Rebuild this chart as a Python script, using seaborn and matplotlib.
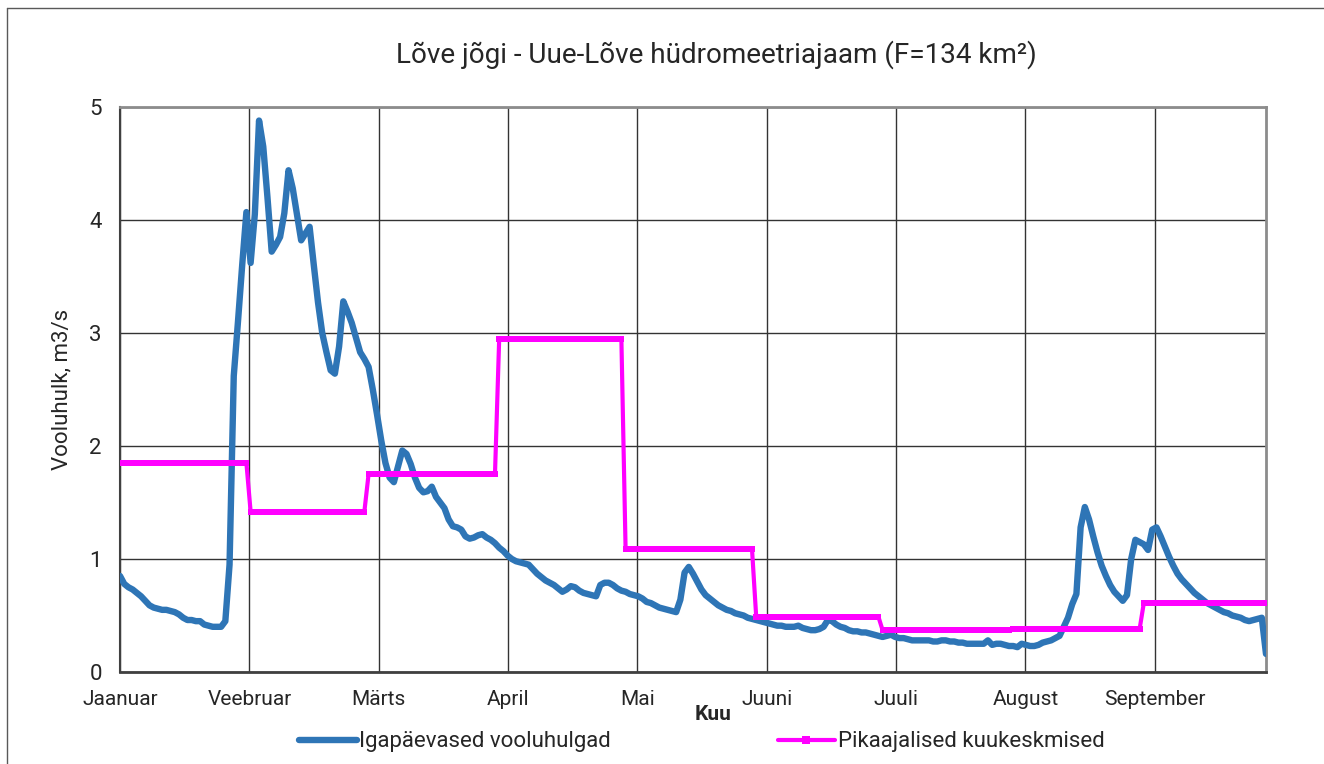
import numpy as np
import pandas as pd
import matplotlib
matplotlib.use("Agg")
import matplotlib.pyplot as plt
from matplotlib.lines import Line2D
import seaborn as sns

# ---------------- data ----------------
month_labels = ["Jaanuar", "Veebruar", "Märts", "April", "Mai", "Juuni", "Juuli", "August", "September"]
month_days = [31, 28, 31, 30, 31, 30, 31, 31, 30]
monthly_mean = [1.85, 1.42, 1.75, 2.95, 1.09, 0.49, 0.37, 0.38, 0.61]

jan_q = [0.85, 0.78, 0.75, 0.73, 0.70, 0.67, 0.63, 0.59, 0.57, 0.56, 0.55, 0.55, 0.54, 0.53, 0.51, 0.48,
         0.46, 0.46, 0.45, 0.45, 0.42, 0.41, 0.40, 0.40, 0.40, 0.45, 0.95, 2.62, 3.10, 3.60, 4.07]
feb_q = [3.62, 4.05, 4.88, 4.65, 4.20, 3.72, 3.78, 3.85, 4.06, 4.44, 4.28, 4.05, 3.82, 3.88, 3.94, 3.60,
         3.27, 3.00, 2.83, 2.67, 2.64, 2.88, 3.28, 3.19, 3.09, 2.96, 2.83, 2.77]
mar_q = [2.70, 2.50, 2.28, 2.05, 1.85, 1.72, 1.68, 1.82, 1.96, 1.93, 1.84, 1.72, 1.63, 1.59, 1.60, 1.64,
         1.55, 1.50, 1.45, 1.35, 1.29, 1.28, 1.26, 1.20, 1.18, 1.19, 1.21, 1.22, 1.19, 1.17, 1.14]
apr_q = [1.10, 1.07, 1.03, 1.00, 0.98, 0.97, 0.96, 0.95, 0.91, 0.87, 0.84, 0.81, 0.79, 0.77, 0.74, 0.71,
         0.73, 0.76, 0.75, 0.72, 0.70, 0.69, 0.68, 0.67, 0.77, 0.79, 0.79, 0.77, 0.74, 0.72]
may_q = [0.71, 0.69, 0.68, 0.67, 0.65, 0.62, 0.61, 0.59, 0.57, 0.56, 0.55, 0.54, 0.53, 0.64, 0.88, 0.93,
         0.87, 0.80, 0.73, 0.68, 0.65, 0.62, 0.59, 0.57, 0.55, 0.54, 0.52, 0.51, 0.50, 0.48, 0.47]
jun_q = [0.46, 0.45, 0.44, 0.43, 0.42, 0.41, 0.41, 0.40, 0.40, 0.40, 0.41, 0.39, 0.38, 0.37, 0.37, 0.38,
         0.40, 0.46, 0.45, 0.42, 0.40, 0.39, 0.37, 0.36, 0.36, 0.35, 0.35, 0.34, 0.33, 0.32]
jul_q = [0.31, 0.32, 0.33, 0.31, 0.30, 0.30, 0.29, 0.28, 0.28, 0.28, 0.28, 0.28, 0.27, 0.27, 0.28, 0.28,
         0.27, 0.27, 0.26, 0.26, 0.25, 0.25, 0.25, 0.25, 0.25, 0.28, 0.24, 0.25, 0.25, 0.24, 0.23]
aug_q = [0.23, 0.22, 0.25, 0.24, 0.23, 0.23, 0.24, 0.26, 0.27, 0.28, 0.30, 0.32, 0.40, 0.48, 0.60, 0.69,
         1.28, 1.46, 1.35, 1.20, 1.06, 0.94, 0.85, 0.77, 0.71, 0.67, 0.63, 0.68, 1.00, 1.17, 1.15]
sep_q = [1.13, 1.08, 1.26, 1.28, 1.20, 1.11, 1.02, 0.94, 0.87, 0.82, 0.78, 0.74, 0.70, 0.67, 0.64, 0.61,
         0.59, 0.57, 0.55, 0.53, 0.52, 0.50, 0.49, 0.48, 0.46, 0.45, 0.46, 0.47, 0.48, 0.16]

daily_q = jan_q + feb_q + mar_q + apr_q + may_q + jun_q + jul_q + aug_q + sep_q
days = np.arange(len(daily_q))
mean_daily = np.repeat(monthly_mean, month_days)

df = pd.DataFrame({"day": days, "q": daily_q, "mean": mean_daily})

# ---------------- style ----------------
sns.set_theme(style="white")
plt.rcParams["font.family"] = ["Roboto", "DejaVu Sans"]

fig = plt.figure(figsize=(13.24, 7.64), dpi=100)
ax = fig.add_axes([120 / 1324, 1 - 672 / 764, (1266 - 120) / 1324, (672 - 107) / 764])

blue = "#2E75B6"
pink = "#FF00FF"

sns.lineplot(data=df, x="day", y="q", ax=ax, color=blue, lw=4.6,
             solid_joinstyle="round", solid_capstyle="round",
             label="Igapäevased vooluhulgad", legend=False, zorder=3)
sns.lineplot(data=df, x="day", y="mean", ax=ax, color=pink, lw=3.0,
             marker="s", markersize=4.0, markeredgewidth=0,
             label="Pikaajalised kuukeskmised", legend=False, zorder=4)

ax.set_xlim(0, len(daily_q) - 1)
ax.set_ylim(0, 5)
tick_pos = np.arange(len(month_labels)) * 30.7
ax.set_xticks(tick_pos)
ax.set_xticklabels(month_labels, fontsize=15)
ax.set_yticks([0, 1, 2, 3, 4, 5])
ax.set_yticklabels(["0", "1", "2", "3", "4", "5"], fontsize=16)

ax.grid(True, color="#333333", lw=1.0)
ax.set_axisbelow(True)
ax.tick_params(axis="x", direction="out", length=6, width=1, color="#404040", pad=7)
ax.tick_params(axis="y", direction="out", length=5, width=1, color="#404040", pad=8)

for side in ["top", "right"]:
    ax.spines[side].set_color("#8c8c8c")
    ax.spines[side].set_linewidth(2)
ax.spines["left"].set_color("#404040")
ax.spines["left"].set_linewidth(1.5)
ax.spines["bottom"].set_color("#404040")
ax.spines["bottom"].set_linewidth(2)

ax.set_xlabel("Kuu", fontsize=15, fontweight="bold")
ax.xaxis.set_label_coords((713 - 120) / 1146, -(705 - 672) / 565, transform=ax.transAxes)
ax.set_ylabel("Vooluhulk, m3/s", fontsize=16, labelpad=12)

fig.text(0.541, 1 - 55 / 764, "Lõve jõgi - Uue-Lõve hüdromeetriajaam (F=134 km²)",
         ha="center", va="center", fontsize=20.1)

handles = [Line2D([], [], color=blue, lw=4.6, solid_capstyle="round"),
           Line2D([], [], color=pink, lw=3.0, marker="s", markersize=6, markeredgewidth=0)]
fig.legend(handles, ["Igapäevased vooluhulgad", "Pikaajalised kuukeskmised"],
           loc="center", bbox_to_anchor=(0.530, 1 - 742 / 764), ncol=2, frameon=False,
           fontsize=16, handlelength=2.6, handletextpad=0.1, columnspacing=7.5, numpoints=1)

# outer frame
fig.add_artist(Line2D([6.5 / 1324, 6.5 / 1324], [0, 1 - 8 / 764], transform=fig.transFigure,
                      color="#595959", lw=1))
fig.add_artist(Line2D([6.5 / 1324, 1], [1 - 8 / 764, 1 - 8 / 764], transform=fig.transFigure,
                      color="#595959", lw=1))

fig.savefig("out.png", dpi=100, facecolor="white")
